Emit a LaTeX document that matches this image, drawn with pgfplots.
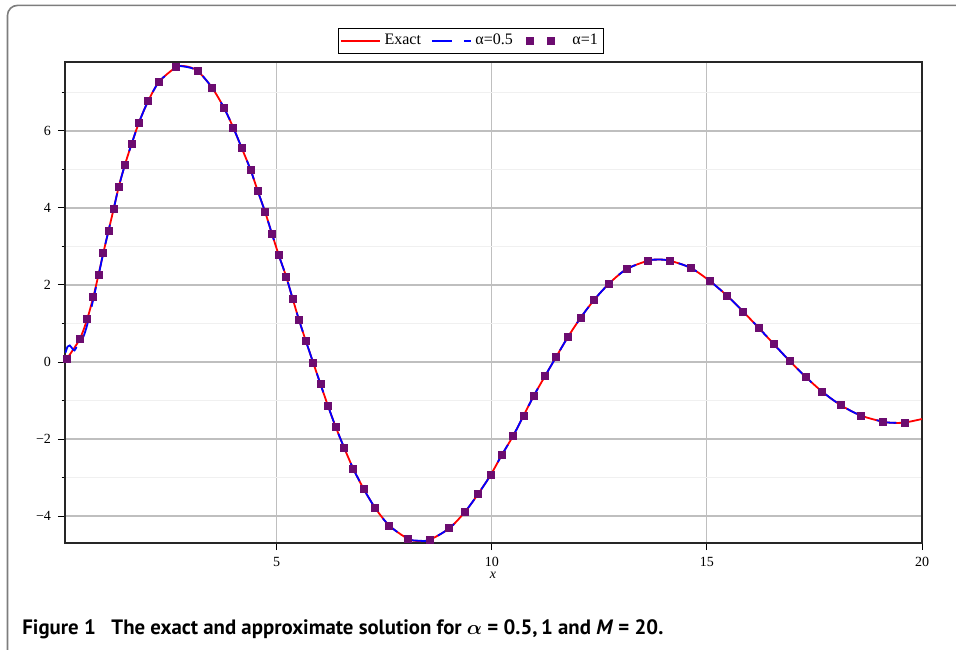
\documentclass[border=0pt]{standalone}
\usepackage{fontspec}
\setmainfont{Liberation Serif}
\newfontfamily\capfont{PT Sans}
\usepackage{pgfplots}
\pgfplotsset{compat=1.18}
\definecolor{mplpurple}{RGB}{108,12,112}
\definecolor{framegray}{RGB}{125,125,125}
\pgfplotsset{
  twomarks/.style={legend image code/.code={\path[##1] plot coordinates {(0.12cm,0cm) (0.5cm,0cm)}; \path[draw=none] (0cm,0cm) -- (0.8cm,0cm);}},
  longline/.style={legend image code/.code={\draw[##1] (0cm,0cm) -- (0.68cm,0cm);}},
}

\begin{document}
\begin{tikzpicture}
\useasboundingbox (0,0) rectangle (478pt,324.5pt);
% outer figure frame (rounded, cut by the page)
\draw[framegray, line width=0.8pt, rounded corners=5pt]
  (3.75pt,-6pt) -- (3.75pt,321.8pt) -- (490pt,321.8pt);

\begin{axis}[
    at={(32.5pt,53pt)}, anchor=south west,
    scale only axis,
    width=428.5pt, height=240.5pt,
    xmin=0.08, xmax=20,
    ymin=-4.7, ymax=7.79,
    xtick={5,10,15,20},
    ytick={-4,-2,0,2,4,6},
    yticklabels={−4,−2,0,2,4,6},
    minor ytick={-3,-1,1,3,5,7},
    grid=both,
    major grid style={draw=black!25, line width=0.6pt},
    minor grid style={draw=black!6, line width=0.6pt},
    tick pos=left, tick align=outside,
    major tick length=3.5pt, minor tick length=1.7pt,
    every tick/.style={black, line width=0.5pt},
    axis line style={black!85, line width=0.6pt},
    tick label style={font=\fontsize{7}{8}\selectfont},
    /pgf/number format/assume math mode=true,
    xlabel={\textit{x}},
    xlabel style={at={(axis description cs:0.4994,0)}, anchor=center, yshift=-16pt, font=\fontsize{7}{8}\selectfont},
    legend columns=3,
    legend style={at={(axis description cs:0.4737,1.044)}, anchor=center,
        draw=black, line width=0.5pt, font=\fontsize{8}{9}\selectfont,
        inner xsep=1pt, inner ysep=1pt,
        /tikz/every even column/.append style={column sep=3pt}},
]
% exact solution
\addplot[red, line width=0.9pt, smooth, longline] coordinates {
(0.12,0.08) (0.42,0.59) (0.60,1.13) (0.74,1.70) (0.86,2.27) (0.97,2.83) (1.09,3.40)
(1.21,3.97) (1.33,4.55) (1.47,5.11) (1.63,5.67) (1.80,6.22) (2.01,6.77) (2.27,7.28)
(2.66,7.65) (2.88,7.68) (3.16,7.56) (3.50,7.12) (3.77,6.61) (3.99,6.09) (4.19,5.55)
(4.39,5.00) (4.56,4.44) (4.73,3.90) (4.89,3.33) (5.05,2.77) (5.22,2.22) (5.37,1.65)
(5.52,1.09) (5.68,0.54) (5.85,-0.02) (6.02,-0.58) (6.19,-1.13) (6.37,-1.68) (6.57,-2.23)
(6.78,-2.77) (7.02,-3.29) (7.29,-3.79) (7.62,-4.25) (8.05,-4.59) (8.30,-4.65) (8.55,-4.62)
(9.01,-4.32) (9.37,-3.90) (9.68,-3.43) (9.97,-2.94) (10.23,-2.42) (10.50,-1.91) (10.74,-1.39)
(10.98,-0.87) (11.24,-0.36) (11.50,0.14) (11.77,0.65) (12.06,1.14) (12.37,1.60) (12.72,2.03)
(13.13,2.41) (13.63,2.63) (13.88,2.66) (14.14,2.63) (14.63,2.44) (15.07,2.10) (15.47,1.72)
(15.84,1.31) (16.21,0.88) (16.56,0.46) (16.92,0.03) (17.29,-0.38) (17.68,-0.77) (18.11,-1.12)
(18.58,-1.39) (19.09,-1.55) (19.35,-1.58) (19.61,-1.57) (20.00,-1.48)
};
\addlegendentry{Exact}
% alpha = 0.5
\addplot[blue, line width=0.9pt, smooth, dash pattern=on 10pt off 6pt, longline] coordinates {
(0.09,0.24) (0.14,0.40) (0.19,0.43) (0.25,0.35) (0.30,0.30) (0.36,0.42) (0.42,0.58)
(0.50,0.64) (0.60,0.98) (0.74,1.64) (0.86,2.25) (0.97,2.83) (1.09,3.40)
(1.21,3.97) (1.33,4.55) (1.47,5.11) (1.63,5.67) (1.80,6.22) (2.01,6.77) (2.27,7.28)
(2.66,7.65) (2.86,7.67) (3.16,7.56) (3.50,7.12) (3.77,6.61) (3.99,6.09) (4.19,5.55)
(4.39,5.00) (4.56,4.44) (4.73,3.90) (4.89,3.33) (5.05,2.77) (5.22,2.22) (5.37,1.65)
(5.52,1.09) (5.68,0.54) (5.85,-0.02) (6.02,-0.58) (6.19,-1.13) (6.37,-1.68) (6.57,-2.23)
(6.78,-2.77) (7.02,-3.29) (7.29,-3.79) (7.62,-4.25) (8.05,-4.59) (8.30,-4.64) (8.55,-4.62)
(9.01,-4.32) (9.37,-3.90) (9.68,-3.43) (9.97,-2.94) (10.23,-2.42) (10.50,-1.91) (10.74,-1.39)
(10.98,-0.87) (11.24,-0.36) (11.50,0.14) (11.77,0.65) (12.06,1.14) (12.37,1.60) (12.72,2.03)
(13.13,2.41) (13.63,2.63) (13.88,2.66) (14.14,2.63) (14.63,2.44) (15.07,2.10) (15.47,1.72)
(15.84,1.31) (16.21,0.88) (16.56,0.46) (16.92,0.03) (17.29,-0.38) (17.68,-0.77) (18.11,-1.12)
(18.58,-1.39) (19.09,-1.55) (19.35,-1.58) (19.61,-1.57)
};
\addlegendentry{α=0.5}
% alpha = 1
\addplot[only marks, mark=square*, mark size=1.75pt, color=mplpurple, twomarks] coordinates {
(0.12,0.08) (0.42,0.59) (0.60,1.13) (0.74,1.70) (0.86,2.27) (0.97,2.83) (1.09,3.40)
(1.21,3.97) (1.33,4.55) (1.47,5.11) (1.63,5.67) (1.80,6.22) (2.01,6.77) (2.27,7.28)
(2.66,7.65) (3.16,7.56) (3.50,7.12) (3.77,6.61) (3.99,6.09) (4.19,5.55)
(4.39,5.00) (4.56,4.44) (4.73,3.90) (4.89,3.33) (5.05,2.77) (5.22,2.22) (5.37,1.65)
(5.52,1.09) (5.68,0.54) (5.85,-0.02) (6.02,-0.58) (6.19,-1.13) (6.37,-1.68) (6.57,-2.23)
(6.78,-2.77) (7.02,-3.29) (7.29,-3.79) (7.62,-4.25) (8.05,-4.59) (8.55,-4.62)
(9.01,-4.32) (9.37,-3.90) (9.68,-3.43) (9.97,-2.94) (10.23,-2.42) (10.50,-1.91) (10.74,-1.39)
(10.98,-0.87) (11.24,-0.36) (11.50,0.14) (11.77,0.65) (12.06,1.14) (12.37,1.60) (12.72,2.03)
(13.13,2.41) (13.63,2.63) (14.14,2.63) (14.63,2.44) (15.07,2.10) (15.47,1.72)
(15.84,1.31) (16.21,0.88) (16.56,0.46) (16.92,0.03) (17.29,-0.38) (17.68,-0.77) (18.11,-1.12)
(18.58,-1.39) (19.09,-1.55) (19.61,-1.57)
};
\addlegendentry{α=1}
\end{axis}

\node[anchor=base west, inner sep=0pt, font=\capfont\bfseries\fontsize{10.4}{12}\selectfont]
  at (11pt,7.5pt) {Figure 1\hspace{0.5em} The exact and approximate solution for {\boldmath$\alpha$} = 0.5,\,1 and \textit{M} = 20.};
\end{tikzpicture}
\end{document}
